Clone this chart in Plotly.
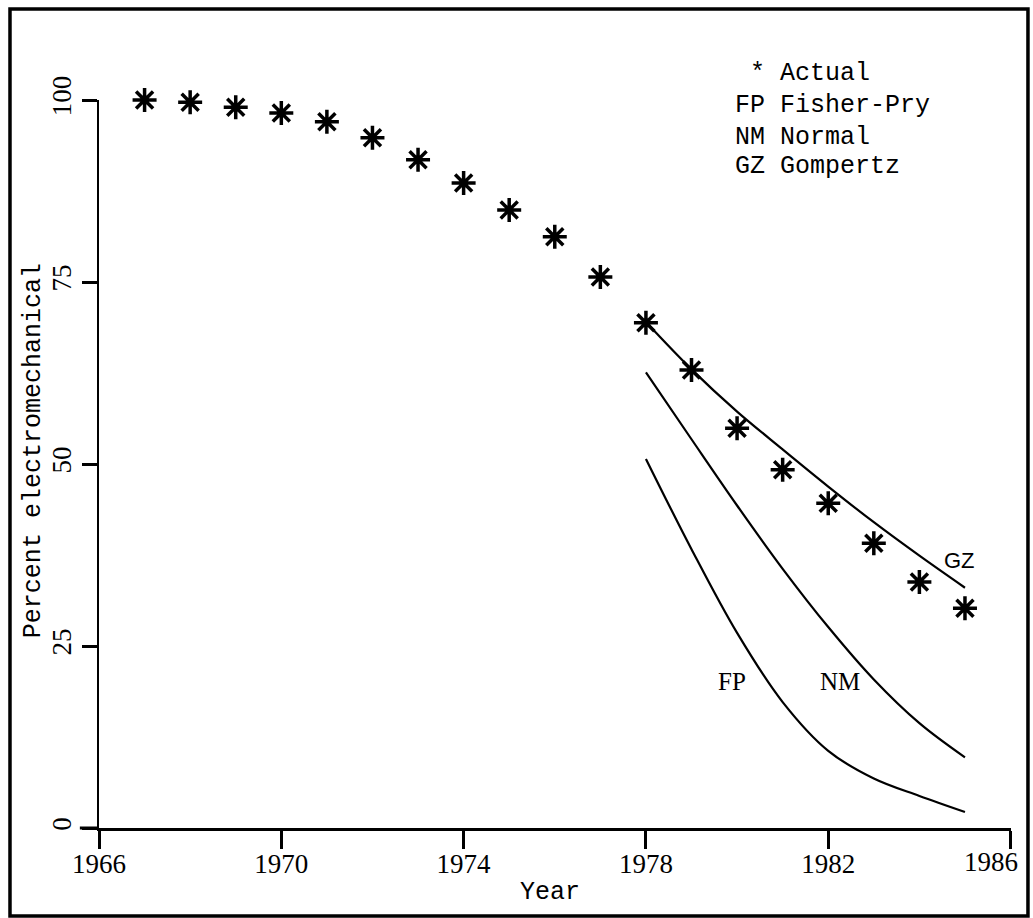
import plotly.graph_objects as go

years_actual = list(range(1967, 1986))
actual = [100.0, 99.7, 99.0, 98.2, 97.0, 94.8, 91.8, 88.6, 84.9, 81.2, 75.7,
          69.4, 62.9, 54.9, 49.2, 44.6, 39.1, 33.8, 30.2]

years_fit = list(range(1978, 1986))
gompertz = [69.5, 63.0, 57.2, 52.0, 46.9, 42.0, 37.4, 33.0]
normal = [62.6, 53.4, 44.3, 35.6, 27.6, 20.4, 14.4, 9.7]
fisher_pry = [50.7, 38.3, 26.8, 17.3, 10.6, 6.8, 4.4, 2.2]

x_ticks = [1966, 1970, 1974, 1978, 1982, 1986]
y_ticks = [0, 25, 50, 75, 100]

legend_lines = ["\u00a0* Actual", "FP Fisher-Pry", "NM Normal", "GZ Gompertz"]

MONO = "Liberation Mono, Courier New, monospace"
SERIF = "Liberation Serif, Times New Roman, serif"

fig = go.Figure()

for ys in (gompertz, normal, fisher_pry):
    fig.add_trace(go.Scatter(
        x=years_fit, y=ys, mode="lines",
        line=dict(color="black", width=2.2, shape="spline", smoothing=1.0),
        hoverinfo="skip", showlegend=False))

fig.add_trace(go.Scatter(
    x=years_actual, y=actual, mode="markers", cliponaxis=False,
    marker=dict(symbol="asterisk-open", size=20, color="black",
                line=dict(color="black", width=3.5)),
    showlegend=False))

# last x tick label is drawn separately (shifted left as in the source)
x_ticktext = [str(v) for v in x_ticks[:-1]] + [""]

fig.update_layout(
    width=1033, height=918,
    margin=dict(l=99, r=22, t=100, b=90),
    paper_bgcolor="white", plot_bgcolor="white",
    showlegend=False,
    xaxis=dict(range=[1966, 1986.01], tickvals=x_ticks, ticktext=x_ticktext,
               showgrid=False, zeroline=False, showline=True, linecolor="black", linewidth=3,
               ticks="outside", ticklen=18, tickwidth=2.5, tickcolor="black",
               ticklabelstandoff=-8, ticklabeloverflow="allow",
               tickfont=dict(family=SERIF, size=27, color="black")),
    yaxis=dict(range=[0, 100], tickvals=y_ticks, ticktext=[str(v) for v in y_ticks],
               showgrid=False, zeroline=False, showline=True, linecolor="black", linewidth=2,
               ticks="outside", ticklen=15, tickwidth=3, tickcolor="black", tickangle=-90,
               tickfont=dict(family=SERIF, size=27, color="black")),
)

fig.add_annotation(text=str(x_ticks[-1]), x=x_ticks[-1], xref="x", yref="paper", y=0,
                   yshift=-34, xshift=-20, showarrow=False, xanchor="center", yanchor="middle",
                   font=dict(family=SERIF, size=27, color="black"))

# outer frame
fig.add_shape(type="rect", xref="paper", yref="paper",
              x0=-0.0976, x1=1.0186, y0=-0.1209, y1=1.125,
              line=dict(color="black", width=3.5), layer="above")
# x-axis line extension to the left of the y-axis
fig.add_shape(type="line", xref="paper", yref="paper", x0=-0.021, x1=0, y0=0, y1=0,
              line=dict(color="black", width=3))

# axis titles
fig.add_annotation(text="Year", xref="paper", yref="paper", x=0.4945, y=-0.089,
                   showarrow=False, xanchor="center", yanchor="middle",
                   font=dict(family=MONO, size=25, color="black"))
fig.add_annotation(text="Percent electromechanical", xref="paper", yref="paper",
                   x=-0.0724, y=0.519, textangle=-90, showarrow=False,
                   xanchor="center", yanchor="middle",
                   font=dict(family=MONO, size=25, color="black"))

# curve labels
fig.add_annotation(text="GZ", x=1984.88, y=36.8, showarrow=False,
                   font=dict(family="Liberation Sans, Arial, sans-serif", size=22, color="black"))
fig.add_annotation(text="FP", x=1979.88, y=20.1, showarrow=False,
                   font=dict(family=SERIF, size=25, color="black"))
fig.add_annotation(text="NM", x=1982.25, y=20.1, showarrow=False,
                   font=dict(family=SERIF, size=25, color="black"))

# legend text
legend_y = [1.037, 0.993, 0.949, 0.908]
for txt, yy in zip(legend_lines, legend_y):
    fig.add_annotation(text=txt, xref="paper", yref="paper", x=0.695, y=yy,
                       xanchor="left", yanchor="middle", showarrow=False,
                       font=dict(family=MONO, size=25, color="black"))

fig.write_html("out.html")
